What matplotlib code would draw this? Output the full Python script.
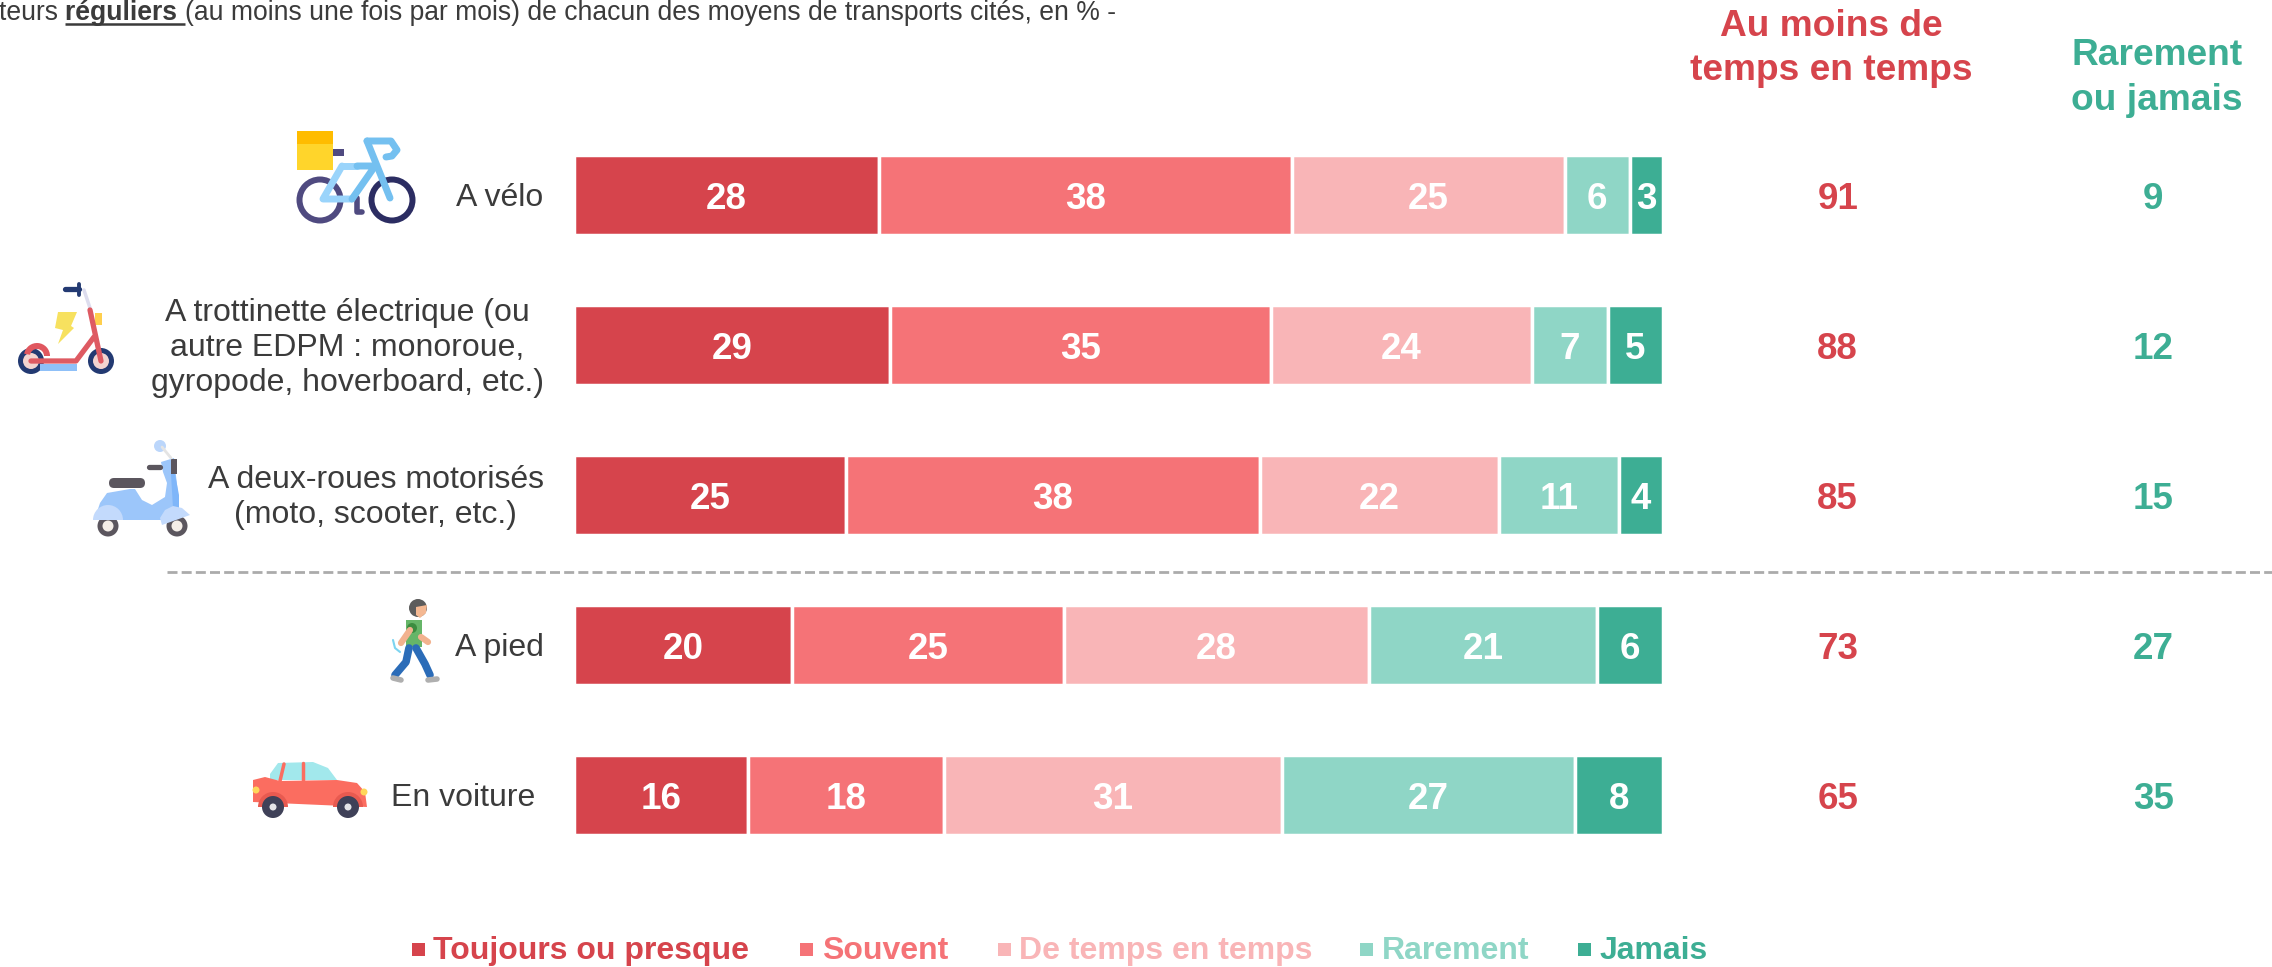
import matplotlib
matplotlib.use("Agg")
import matplotlib.pyplot as plt
from matplotlib.patches import Circle, Polygon, Rectangle, FancyBboxPatch, Wedge

plt.rcParams["font.family"] = ["Liberation Sans", "DejaVu Sans"]

# ── data ─────────────────────────────────────────────────────────────────────

CATEGORIES = [
    "A vélo",
    "A trottinette électrique (ou\nautre EDPM : monoroue,\ngyropode, hoverboard, etc.)",
    "A deux-roues motorisés\n(moto, scooter, etc.)",
    "A pied",
    "En voiture",
]
SERIES = ["Toujours ou presque", "Souvent", "De temps en temps", "Rarement", "Jamais"]
TOUJOURS = [28, 29, 25, 20, 16]
SOUVENT = [38, 35, 38, 25, 18]
DE_TEMPS = [25, 24, 22, 28, 31]
RAREMENT = [6, 7, 11, 21, 27]
JAMAIS = [3, 5, 4, 6, 8]
AU_MOINS = [91, 88, 85, 73, 65]
RAREMENT_JAMAIS = [9, 12, 15, 27, 35]

COLORS = ["#D6444C", "#F57377", "#F9B5B7", "#8FD6C6", "#3DAE94"]
TEXT_COLOR = "#3B3B3B"
W, H = 2272, 967
SUB_SIZE = 19.1

# ── helpers ──────────────────────────────────────────────────────────────────


def line(ov, pts, color, lw):
    xs, ys = zip(*pts)
    ov.plot(xs, ys, color=color, lw=lw, solid_capstyle="round", solid_joinstyle="round")


def ring(ov, x, y, r, color, width, inner="white"):
    ov.add_patch(Circle((x, y), r, fc=color, ec="none"))
    ov.add_patch(Circle((x, y), r - width, fc=inner, ec="none"))


def draw_bike(ov):
    ring(ov, 320, 200, 23.5, "#4F4A80", 6)
    ring(ov, 392, 200, 23.5, "#2C2D62", 6)
    line(ov, [(357, 198), (357, 212), (362, 212)], "#4F4A80", 4)
    ov.add_patch(Rectangle((333, 149), 11, 7, fc="#4F4A80", ec="none"))
    line(ov, [(342, 166), (323, 199), (352, 199)], "#9AD4FB", 5)
    line(ov, [(342, 166), (357, 166)], "#9AD4FB", 5)
    line(ov, [(357, 166), (375, 166), (352, 199)], "#74C0F0", 5)
    line(ov, [(367, 141), (390, 198)], "#74C0F0", 5)
    line(ov, [(367, 141), (391, 141), (397, 150), (392, 156), (386, 157)], "#74C0F0", 5)
    ov.add_patch(Rectangle((297, 131), 36, 39, fc="#FFD52B", ec="none"))
    ov.add_patch(Rectangle((297, 131), 36, 13, fc="#FFBC00", ec="none"))


def draw_kick(ov):
    ring(ov, 31, 361, 13, "#233A72", 5, "#F3D4D0")
    ring(ov, 101, 361, 13, "#233A72", 5, "#F3D4D0")
    ov.add_patch(Rectangle((40, 364), 37, 6.5, fc="#8FC0F8", ec="none"))
    ov.add_patch(Wedge((37, 356), 13, 190, 360, width=6, fc="#E0575F", ec="none"))
    line(ov, [(84, 290), (90, 308)], "#DDDDEE", 2.5)
    line(ov, [(31, 361), (76, 361), (94, 337)], "#DE5A62", 3.8)
    line(ov, [(90, 310), (101, 361)], "#DE5A62", 3.8)
    line(ov, [(65, 289), (79, 289)], "#233A72", 3.8)
    line(ov, [(79, 284), (79, 295)], "#233A72", 2.8)
    ov.add_patch(Rectangle((95, 313), 7, 12, fc="#FFCF4D", ec="none"))
    ov.add_patch(Polygon([(58, 312), (77, 312), (71, 326), (74, 328), (58, 344),
                          (63, 330), (55, 328)], fc="#F7E15F", ec="none"))


def draw_moto(ov):
    line(ov, [(162, 447), (171, 458)], "#E4E4E4", 2)
    ov.add_patch(Circle((160, 446), 6, fc="#BBD6FB", ec="none"))
    body = [(95, 518), (100, 503), (107, 493), (130, 489), (135, 489), (142, 500), (152, 505),
            (165, 497), (167, 483), (163, 472), (161, 462), (174, 458), (178, 493),
            (178, 508), (172, 520), (95, 520)]
    ov.add_patch(Polygon(body, fc="#9CC6FA", ec="none"))
    ov.add_patch(Polygon([(171, 474), (175, 474), (179, 495), (179, 508), (173, 508)],
                         fc="#7FB6F9", ec="none"))
    ring(ov, 108, 526, 10.5, "#5B565E", 5, "#F4EEE8")
    ring(ov, 177, 526, 10.5, "#5B565E", 5, "#F4EEE8")
    ov.add_patch(Wedge((108, 520), 15, 180, 360, fc="#C3DAFC", ec="none"))
    ov.add_patch(Polygon([(160, 518), (165, 510), (173, 506), (182, 508), (190, 515), (162, 525)],
                         fc="#C3DAFC", ec="none"))
    ov.add_patch(FancyBboxPatch((109, 478), 36, 10, boxstyle="round,pad=0,rounding_size=5",
                                fc="#5B565E", ec="none"))
    line(ov, [(149, 467), (160, 467)], "#5B565E", 3.8)
    ov.add_patch(Rectangle((171, 459), 6, 15, fc="#5B565E", ec="none"))


def draw_walker(ov):
    line(ov, [(409, 648), (406, 662), (395, 675)], "#2B6CB8", 5.5)
    line(ov, [(416, 648), (425, 664), (430, 675)], "#2B6CB8", 5.5)
    line(ov, [(393, 678), (401, 680)], "#AFAFAF", 4)
    line(ov, [(428, 680), (437, 679)], "#AFAFAF", 4)
    line(ov, [(410, 630), (401, 643)], "#F2B28F", 4.5)
    line(ov, [(421, 637), (428, 642)], "#F2B28F", 4.5)
    ov.add_patch(Rectangle((406, 620), 16, 27, fc="#66B568", ec="none"))
    ov.add_patch(Circle((412, 628), 5, fc="#3C8C40", ec="none"))
    ov.add_patch(Circle((418, 608), 9, fc="#5C5C5C", ec="none"))
    ov.add_patch(Polygon([(416, 607), (427, 605), (426, 613), (420, 618), (416, 615)],
                         fc="#F4B892", ec="none"))
    line(ov, [(393, 640), (395, 648), (400, 652)], "#7CD4F0", 1.5)


def draw_car(ov):
    roof = [(270, 774), (278, 763), (313, 762), (328, 768), (337, 780), (270, 780)]
    ov.add_patch(Polygon(roof, fc="#A2E8EC", ec="none"))
    body = [(253, 780), (265, 777), (280, 781), (337, 780), (357, 783), (365, 792),
            (367, 807), (253, 802)]
    ov.add_patch(Polygon(body, fc="#FB6D60", ec="none"))
    line(ov, [(284, 764), (280, 781)], "#FB6D60", 2.5)
    line(ov, [(303, 763), (303, 781)], "#FB6D60", 2.5)
    ov.add_patch(Circle((256, 790), 3.5, fc="#FFD65A", ec="none"))
    ov.add_patch(Circle((364, 792), 3.5, fc="#FFD65A", ec="none"))
    ov.add_patch(Wedge((273, 807), 15, 180, 360, fc="#E85A50", ec="none"))
    ov.add_patch(Wedge((348, 807), 15, 180, 360, fc="#E85A50", ec="none"))
    ring(ov, 273, 807, 11, "#3F4158", 7.5, "#E4E4E8")
    ring(ov, 348, 807, 11, "#3F4158", 7.5, "#E4E4E8")


def draw_subtitle(fig, ov):
    """The subtitle mixes weights, so its pieces are placed one after the other."""
    renderer = fig.canvas.get_renderer()
    x = -1
    for piece, weight, underline in [
        ("teurs ", "normal", False),
        ("réguliers ", "bold", True),
        ("(au moins une fois par mois) de chacun des moyens de transports cités, en % -", "normal", False),
    ]:
        t = ov.text(x, 20, piece.replace(" ", "\u00a0"), fontsize=SUB_SIZE, fontweight=weight,
                    color=TEXT_COLOR, ha="left", va="baseline")
        width = t.get_window_extent(renderer).width
        if underline:
            ov.plot([x, x + width], [24, 24], color=TEXT_COLOR, lw=1.8, solid_capstyle="butt")
        x += width


# ── plotting ─────────────────────────────────────────────────────────────────

fig = plt.figure(figsize=(W / 100, H / 100), dpi=100, facecolor="white")

# overlay in picture pixels for everything that is not a mark of the chart
ov = fig.add_axes([0, 0, 1, 1])
ov.set_xlim(0, W)
ov.set_ylim(H, 0)
ov.axis("off")

ax = fig.add_axes([574 / W, 1 - 870 / H, 1088.5 / W, 750 / H])
ax.patch.set_alpha(0)
ax.set_xlim(0, 100)
ax.set_ylim(4.5, -0.5)
ax.axis("off")

# "En voiture" sits a little further from its bar in the original
label_x = [-2.8, -2.8, -2.8, -2.8, -3.6]

rows = [TOUJOURS, SOUVENT, DE_TEMPS, RAREMENT, JAMAIS]
for i in range(len(CATEGORIES)):
    left = 0
    for values, color in zip(rows, COLORS):
        v = values[i]
        ax.barh(i, v, left=left, height=0.535, color=color, edgecolor="white", linewidth=2.5)
        ax.text(left + v / 2, i + 0.005, str(v), ha="center", va="center_baseline", color="white",
                fontsize=26.5, fontweight="bold")
        left += v
    ax.text(label_x[i], i + 0.018, CATEGORIES[i], ha="right", va="center", multialignment="center",
            color=TEXT_COLOR, fontsize=23, linespacing=1.22, clip_on=False)
    ax.text(116.1, i + 0.005, str(AU_MOINS[i]), ha="center", va="center_baseline", color=COLORS[0],
            fontsize=26.5, fontweight="bold", clip_on=False)
    ax.text(145.1, i + 0.005, str(RAREMENT_JAMAIS[i]), ha="center", va="center_baseline", color=COLORS[4],
            fontsize=26.5, fontweight="bold", clip_on=False)

ov.text(1831, 80, "Au moins de\ntemps en temps", ha="center", va="baseline", color=COLORS[0],
        fontsize=26.7, fontweight="bold", linespacing=1.32)
ov.text(2157, 110, "Rarement\nou jamais", ha="center", va="baseline", color=COLORS[4],
        fontsize=26.7, fontweight="bold", linespacing=1.36)

ov.plot([167, W], [572, 572], color="#ABABAB", lw=2, linestyle=(0, (3.6, 1.5)))

legend_square_x = [412, 800, 998, 1360, 1578]
legend_text_x = [433, 822, 1019, 1382, 1600]
for name, color, sx, tx in zip(SERIES, COLORS, legend_square_x, legend_text_x):
    ov.add_patch(Rectangle((sx, 943), 13, 13, fc=color, ec="none"))
    ov.text(tx, 959, name, ha="left", va="baseline", color=color, fontsize=23, fontweight="bold")

draw_bike(ov)
draw_kick(ov)
draw_moto(ov)
draw_walker(ov)
draw_car(ov)
ov.set_xlim(0, W)
ov.set_ylim(H, 0)

draw_subtitle(fig, ov)

fig.savefig("out.png", dpi=100)
